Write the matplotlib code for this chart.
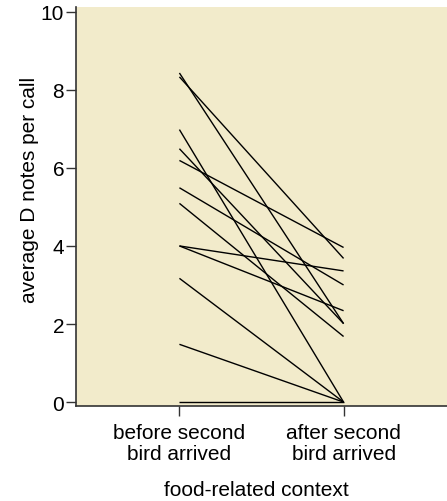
import matplotlib
matplotlib.use("Agg")
import matplotlib.pyplot as plt

plt.rcParams['font.family'] = ['Liberation Sans', 'DejaVu Sans']

conditions = ["before second\nbird arrived", "after second\nbird arrived"]
before = [8.43, 8.33, 6.98, 6.49, 6.19, 5.49, 5.09, 4.0, 4.0, 3.17, 1.48, 0.0]
after = [2.01, 3.68, 0.0, 2.01, 3.96, 3.0, 1.68, 3.36, 2.34, 0.0, 0.0, 0.0]
yticks = [0, 2, 4, 6, 8, 10]

fig = plt.figure(figsize=(4.47, 5.02), dpi=100)
ax = fig.add_axes([76/447, 1 - 407/502, 1 - 76/447, (407 - 8)/502])
ax.set_facecolor('#F2EBCB')

for b, a in zip(before, after):
    ax.plot([0, 1], [b, a], color='black', lw=1.0, solid_capstyle='butt')

ax.set_xlim(-0.63, 1.63)
ax.set_ylim(-0.1, 10.12)
ax.set_xticks([0, 1])
ax.set_xticklabels(conditions, fontsize=15, linespacing=1.15)
ax.set_yticks(yticks)
ax.set_yticklabels([str(t) for t in yticks], fontsize=15)
ax.tick_params(direction='out', length=7, width=1, color='#333333')
ax.tick_params(axis='y', pad=1.5)
ax.tick_params(axis='x', pad=5)
for s in ['top', 'right']:
    ax.spines[s].set_visible(False)
for s in ['left', 'bottom']:
    ax.spines[s].set_color('#333333')
    ax.spines[s].set_linewidth(1.2)
fig.text(256/447, 1 - 491/502, "food-related context", fontsize=15,
         ha='center', va='center')
fig.text(30/447, 1 - 190/502, "average D notes per call", fontsize=15,
         rotation=90, ha='center', va='center')

fig.savefig("out.png", dpi=100)
